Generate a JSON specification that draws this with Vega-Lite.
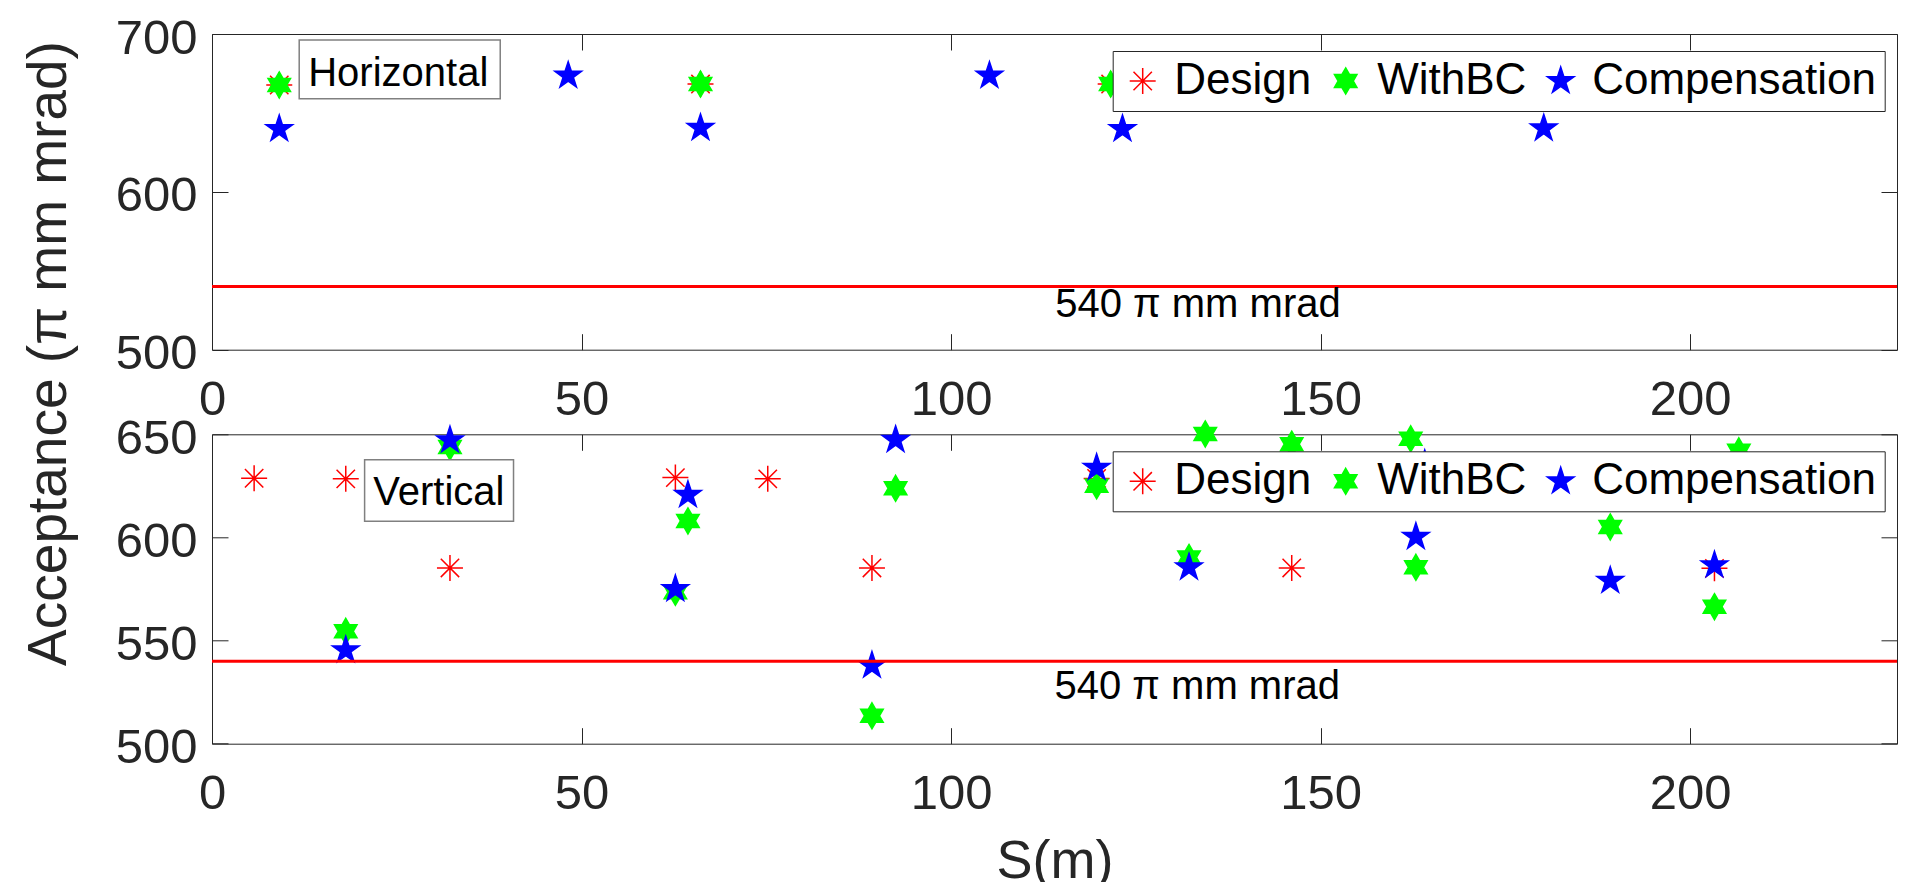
{
  "$schema": "https://vega.github.io/schema/vega-lite/v6.json",
  "background": "white",
  "padding": {"left": 20, "top": 13, "right": 8, "bottom": 0},
  "spacing": 84.3,
  "bounds": "flush",
  "datasets": {
    "acceptance": [
      {"panel": "H", "series": "Design", "s": 9.1, "acc": 667.7},
      {"panel": "H", "series": "Design", "s": 66.1, "acc": 668.3},
      {"panel": "H", "series": "Design", "s": 121.6, "acc": 668.3},
      {"panel": "H", "series": "WithBC", "s": 9.1, "acc": 667.7},
      {"panel": "H", "series": "WithBC", "s": 66.1, "acc": 668.3},
      {"panel": "H", "series": "WithBC", "s": 121.6, "acc": 668.3},
      {"panel": "H", "series": "Compensation", "s": 9.1, "acc": 639.8},
      {"panel": "H", "series": "Compensation", "s": 48.2, "acc": 673.6},
      {"panel": "H", "series": "Compensation", "s": 66.1, "acc": 640.5},
      {"panel": "H", "series": "Compensation", "s": 105.2, "acc": 673.6},
      {"panel": "H", "series": "Compensation", "s": 123.2, "acc": 639.8},
      {"panel": "H", "series": "Compensation", "s": 180.2, "acc": 640.2},
      {"panel": "V", "series": "Design", "s": 5.7, "acc": 628.7},
      {"panel": "V", "series": "Design", "s": 18.1, "acc": 628.4},
      {"panel": "V", "series": "Design", "s": 32.2, "acc": 585.2},
      {"panel": "V", "series": "Design", "s": 62.7, "acc": 629.0},
      {"panel": "V", "series": "Design", "s": 75.2, "acc": 628.4},
      {"panel": "V", "series": "Design", "s": 89.3, "acc": 585.2},
      {"panel": "V", "series": "Design", "s": 119.7, "acc": 628.6},
      {"panel": "V", "series": "Design", "s": 146.1, "acc": 585.2},
      {"panel": "V", "series": "Design", "s": 203.3, "acc": 585.0},
      {"panel": "V", "series": "WithBC", "s": 18.1, "acc": 554.5},
      {"panel": "V", "series": "WithBC", "s": 32.2, "acc": 643.9},
      {"panel": "V", "series": "WithBC", "s": 62.7, "acc": 573.4},
      {"panel": "V", "series": "WithBC", "s": 64.4, "acc": 608.0},
      {"panel": "V", "series": "WithBC", "s": 89.3, "acc": 513.5},
      {"panel": "V", "series": "WithBC", "s": 92.5, "acc": 623.8},
      {"panel": "V", "series": "WithBC", "s": 119.7, "acc": 625.0},
      {"panel": "V", "series": "WithBC", "s": 132.2, "acc": 590.3},
      {"panel": "V", "series": "WithBC", "s": 134.4, "acc": 650.2},
      {"panel": "V", "series": "WithBC", "s": 146.1, "acc": 645.2},
      {"panel": "V", "series": "WithBC", "s": 162.2, "acc": 647.8},
      {"panel": "V", "series": "WithBC", "s": 162.9, "acc": 585.5},
      {"panel": "V", "series": "WithBC", "s": 189.2, "acc": 605.1},
      {"panel": "V", "series": "WithBC", "s": 203.3, "acc": 566.4},
      {"panel": "V", "series": "WithBC", "s": 206.6, "acc": 642.0},
      {"panel": "V", "series": "Compensation", "s": 18.1, "acc": 545.3},
      {"panel": "V", "series": "Compensation", "s": 32.2, "acc": 647.1},
      {"panel": "V", "series": "Compensation", "s": 62.7, "acc": 575.0},
      {"panel": "V", "series": "Compensation", "s": 64.4, "acc": 620.6},
      {"panel": "V", "series": "Compensation", "s": 89.3, "acc": 537.9},
      {"panel": "V", "series": "Compensation", "s": 92.5, "acc": 647.3},
      {"panel": "V", "series": "Compensation", "s": 119.7, "acc": 633.8},
      {"panel": "V", "series": "Compensation", "s": 132.2, "acc": 585.5},
      {"panel": "V", "series": "Compensation", "s": 162.9, "acc": 600.3},
      {"panel": "V", "series": "Compensation", "s": 164.1, "acc": 635.6},
      {"panel": "V", "series": "Compensation", "s": 189.2, "acc": 579.0},
      {"panel": "V", "series": "Compensation", "s": 203.3, "acc": 586.5}
    ],
    "notes": [
      {"panel": "H", "box": "Horizontal", "bx0": 11.8, "bx1": 39.0, "by0": 659.0, "by1": 696.2, "bx": 25.2, "by": 666.8, "note": "540 π mm mrad", "nx": 114.1, "ny": 520.5},
      {"panel": "V", "box": "Vertical", "bx0": 20.65, "bx1": 40.8, "by0": 607.9, "by1": 637.7, "bx": 30.7, "by": 615.7, "note": "540 π mm mrad", "nx": 114.0, "ny": 521.8}
    ],
    "limit": [{"value": 540}]
  },
  "config": {
    "font": "Liberation Sans",
    "view": {"stroke": "#262626", "strokeWidth": 1},
    "axis": {
      "grid": false,
      "domain": false,
      "tickColor": "#262626",
      "tickSize": -16,
      "tickWidth": 1,
      "labelFlush": false,
      "labelFont": "Liberation Sans",
      "labelFontSize": 49,
      "labelColor": "#262626",
      "titleFont": "Liberation Sans",
      "titleFontSize": 54,
      "titleFontWeight": "normal",
      "titleColor": "#262626"
    },
    "legend": {
      "orient": "none",
      "direction": "horizontal",
      "legendX": 900.7,
      "legendY": 17,
      "fillColor": "white",
      "strokeColor": "#262626",
      "padding": 8,
      "cornerRadius": 0,
      "labelFont": "Liberation Sans",
      "labelFontSize": 44,
      "labelColor": "black",
      "labelOffset": 9.5,
      "labelLimit": 400,
      "columnPadding": 12,
      "symbolSize": 676,
      "symbolStrokeWidth": 1.5
    }
  },
  "resolve": {
    "scale": {"fill": "independent", "stroke": "independent", "shape": "independent"},
    "legend": {"fill": "independent", "stroke": "independent", "shape": "independent"}
  },
  "vconcat": [
    {
      "width": 1685,
      "height": 315.7,
      "resolve": {"axis": {"x": "independent", "y": "independent"}},
      "layer": [
        {
          "data": {"name": "acceptance"},
          "transform": [{"filter": "datum.panel === 'H'"}],
          "mark": {"type": "point", "filled": true, "opacity": 1, "size": 676, "strokeWidth": 1.5},
          "encoding": {
            "x": {"field": "s", "type": "quantitative", "scale": {"domain": [0, 228], "nice": false, "zero": false},
              "axis": {"orient": "bottom", "values": [0, 50, 100, 150, 200], "title": null, "labelPadding": 41.4}},
            "y": {"field": "acc", "type": "quantitative", "scale": {"domain": [500, 700], "nice": false, "zero": false},
              "axis": {"orient": "left", "values": [500, 600, 700], "labelPadding": 31, "labelOffset": 4,
                "title": "Acceptance (π mm mrad)", "titleFontSize": 55, "titleAngle": 270, "titleAlign": "center",
                "titleBaseline": "alphabetic", "titleX": -147, "titleY": 319}},
            "fill": {"field": "series", "type": "nominal", "title": null,
              "scale": {"domain": ["Design", "WithBC", "Compensation"], "range": ["transparent", "#00ff00", "#0000ff"]}},
            "stroke": {"field": "series", "type": "nominal", "title": null,
              "scale": {"domain": ["Design", "WithBC", "Compensation"], "range": ["#ff0000", "#00ff00", "#0000ff"]}},
            "shape": {"field": "series", "type": "nominal", "title": null,
              "scale": {"domain": ["Design", "WithBC", "Compensation"], "range": [
                "M-1,0L1,0M0,-1L0,1M-0.707,-0.707L0.707,0.707M-0.707,0.707L0.707,-0.707",
                "M0,-1L0.289,-0.5L0.866,-0.5L0.577,0L0.866,0.5L0.289,0.5L0,1L-0.289,0.5L-0.866,0.5L-0.577,0L-0.866,-0.5L-0.289,-0.5Z",
                "M0,-1.08L0.2425,-0.3337L1.027,-0.3337L0.3924,0.1274L0.6348,0.8737L0,0.4126L-0.6348,0.8737L-0.3924,0.1274L-1.027,-0.3337L-0.2425,-0.3337Z"
              ]}}
          }
        },
        {
          "data": {"name": "limit"},
          "mark": {"type": "rule", "color": "#ff0000", "strokeWidth": 3},
          "encoding": {
            "y": {"field": "value", "type": "quantitative", "scale": {"domain": [500, 700], "nice": false, "zero": false},
              "axis": {"orient": "right", "values": [500, 600, 700], "labels": false, "title": null}}
          }
        },
        {
          "data": {"name": "notes"},
          "transform": [{"filter": "datum.panel === 'H'"}],
          "mark": {"type": "rect", "fill": "white", "stroke": "#808080", "strokeWidth": 1.5},
          "encoding": {
            "x": {"field": "bx0", "type": "quantitative", "scale": {"domain": [0, 228], "nice": false, "zero": false}, "axis": null},
            "x2": {"field": "bx1"},
            "y": {"field": "by0", "type": "quantitative", "scale": {"domain": [500, 700], "nice": false, "zero": false}, "axis": null},
            "y2": {"field": "by1"}
          }
        },
        {
          "data": {"name": "notes"},
          "transform": [{"filter": "datum.panel === 'H'"}],
          "mark": {"type": "text", "fontSize": 40, "font": "Liberation Sans", "color": "black", "align": "center", "baseline": "alphabetic"},
          "encoding": {
            "x": {"field": "bx", "type": "quantitative", "scale": {"domain": [0, 228], "nice": false, "zero": false}, "axis": null},
            "y": {"field": "by", "type": "quantitative", "scale": {"domain": [500, 700], "nice": false, "zero": false}, "axis": null},
            "text": {"field": "box"}
          }
        },
        {
          "data": {"name": "notes"},
          "transform": [{"filter": "datum.panel === 'H'"}],
          "mark": {"type": "text", "fontSize": 40, "font": "Liberation Sans", "color": "black", "align": "left", "baseline": "alphabetic"},
          "encoding": {
            "x": {"field": "nx", "type": "quantitative", "scale": {"domain": [0, 228], "nice": false, "zero": false},
              "axis": {"orient": "top", "values": [0, 50, 100, 150, 200], "labels": false, "title": null}},
            "y": {"field": "ny", "type": "quantitative", "scale": {"domain": [500, 700], "nice": false, "zero": false}, "axis": null},
            "text": {"field": "note"}
          }
        }
      ]
    },
    {
      "width": 1685,
      "height": 309.4,
      "resolve": {"axis": {"x": "independent", "y": "independent"}},
      "layer": [
        {
          "data": {"name": "acceptance"},
          "transform": [{"filter": "datum.panel === 'V'"}],
          "mark": {"type": "point", "filled": true, "opacity": 1, "size": 676, "strokeWidth": 1.5},
          "encoding": {
            "x": {"field": "s", "type": "quantitative", "scale": {"domain": [0, 228], "nice": false, "zero": false},
              "axis": {"orient": "bottom", "values": [0, 50, 100, 150, 200], "labelPadding": 41.4,
                "title": "S(m)", "titleBaseline": "top", "titleY": 91.3}},
            "y": {"field": "acc", "type": "quantitative", "scale": {"domain": [500, 650], "nice": false, "zero": false},
              "axis": {"orient": "left", "values": [500, 550, 600, 650], "labelPadding": 31, "labelOffset": 4, "title": null}},
            "fill": {"field": "series", "type": "nominal", "title": null,
              "scale": {"domain": ["Design", "WithBC", "Compensation"], "range": ["transparent", "#00ff00", "#0000ff"]}},
            "stroke": {"field": "series", "type": "nominal", "title": null,
              "scale": {"domain": ["Design", "WithBC", "Compensation"], "range": ["#ff0000", "#00ff00", "#0000ff"]}},
            "shape": {"field": "series", "type": "nominal", "title": null,
              "scale": {"domain": ["Design", "WithBC", "Compensation"], "range": [
                "M-1,0L1,0M0,-1L0,1M-0.707,-0.707L0.707,0.707M-0.707,0.707L0.707,-0.707",
                "M0,-1L0.289,-0.5L0.866,-0.5L0.577,0L0.866,0.5L0.289,0.5L0,1L-0.289,0.5L-0.866,0.5L-0.577,0L-0.866,-0.5L-0.289,-0.5Z",
                "M0,-1.08L0.2425,-0.3337L1.027,-0.3337L0.3924,0.1274L0.6348,0.8737L0,0.4126L-0.6348,0.8737L-0.3924,0.1274L-1.027,-0.3337L-0.2425,-0.3337Z"
              ]}}
          }
        },
        {
          "data": {"name": "limit"},
          "mark": {"type": "rule", "color": "#ff0000", "strokeWidth": 3},
          "encoding": {
            "y": {"field": "value", "type": "quantitative", "scale": {"domain": [500, 650], "nice": false, "zero": false},
              "axis": {"orient": "right", "values": [500, 550, 600, 650], "labels": false, "title": null}}
          }
        },
        {
          "data": {"name": "notes"},
          "transform": [{"filter": "datum.panel === 'V'"}],
          "mark": {"type": "rect", "fill": "white", "stroke": "#808080", "strokeWidth": 1.5},
          "encoding": {
            "x": {"field": "bx0", "type": "quantitative", "scale": {"domain": [0, 228], "nice": false, "zero": false}, "axis": null},
            "x2": {"field": "bx1"},
            "y": {"field": "by0", "type": "quantitative", "scale": {"domain": [500, 650], "nice": false, "zero": false}, "axis": null},
            "y2": {"field": "by1"}
          }
        },
        {
          "data": {"name": "notes"},
          "transform": [{"filter": "datum.panel === 'V'"}],
          "mark": {"type": "text", "fontSize": 40, "font": "Liberation Sans", "color": "black", "align": "center", "baseline": "alphabetic"},
          "encoding": {
            "x": {"field": "bx", "type": "quantitative", "scale": {"domain": [0, 228], "nice": false, "zero": false}, "axis": null},
            "y": {"field": "by", "type": "quantitative", "scale": {"domain": [500, 650], "nice": false, "zero": false}, "axis": null},
            "text": {"field": "box"}
          }
        },
        {
          "data": {"name": "notes"},
          "transform": [{"filter": "datum.panel === 'V'"}],
          "mark": {"type": "text", "fontSize": 40, "font": "Liberation Sans", "color": "black", "align": "left", "baseline": "alphabetic"},
          "encoding": {
            "x": {"field": "nx", "type": "quantitative", "scale": {"domain": [0, 228], "nice": false, "zero": false},
              "axis": {"orient": "top", "values": [0, 50, 100, 150, 200], "labels": false, "title": null}},
            "y": {"field": "ny", "type": "quantitative", "scale": {"domain": [500, 650], "nice": false, "zero": false}, "axis": null},
            "text": {"field": "note"}
          }
        }
      ]
    }
  ]
}
